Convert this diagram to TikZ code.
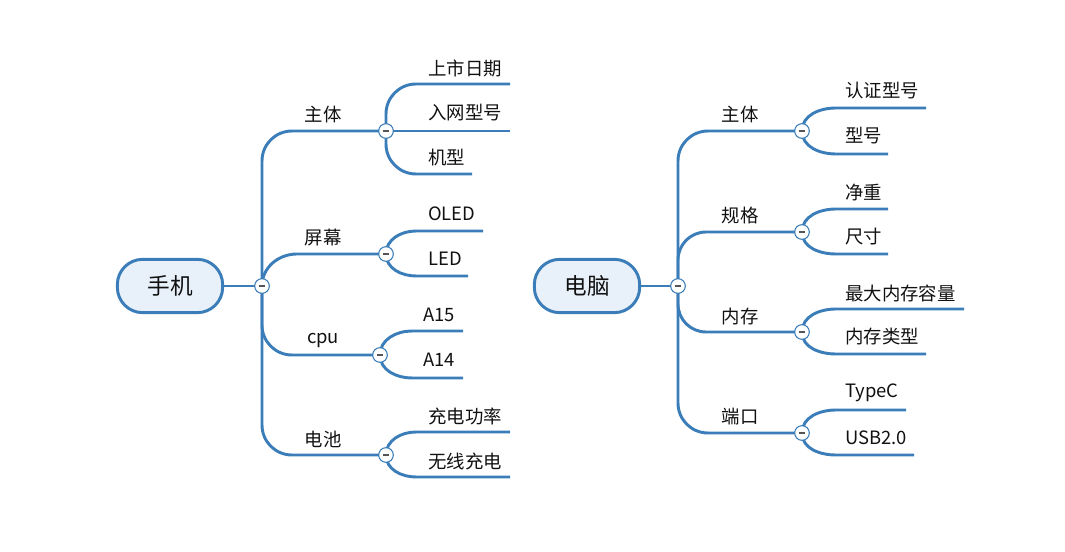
\documentclass[tikz,border=0pt]{standalone}
\usepackage{fontspec}
\setmainfont{Noto Sans CJK SC}
\usetikzlibrary{backgrounds}
\definecolor{lnblue}{HTML}{3A7DB8}
\definecolor{pillfill}{HTML}{E8F1FA}
\definecolor{txt}{HTML}{111111}
\definecolor{minuscol}{HTML}{555555}
\begin{document}
\begin{tikzpicture}[x=0.75pt,y=-0.75pt,
  conn/.style={draw=lnblue,line width=2.2pt},
  rootnode/.style={draw=lnblue,line width=2.2pt,fill=pillfill,rectangle,rounded corners=19pt,
    minimum width=79pt,minimum height=40pt,inner sep=0pt,text=txt,font=\fontsize{17pt}{20pt}\selectfont},
  togg/.style={circle,draw=lnblue,line width=0.8pt,fill=white,minimum size=11pt,inner sep=0pt,
    path picture={\draw[line width=0.9pt,minuscol] ([xshift=-2.6pt]path picture bounding box.center) -- ([xshift=2.6pt]path picture bounding box.center);}},
  lbl/.style={text=txt,font=\fontsize{13.8pt}{16pt}\selectfont,inner sep=0pt},
  leaf/.style={lbl,anchor=west}]
\useasboundingbox (0,0) rectangle (1065,552);

% ---------- left map ----------
\node[rootnode] (r1) at (170,286) {手机};
\node[togg] (c0) at (262,286) {};
\node[togg] (b1c) at (386,131) {};
\node[togg] (b2c) at (386,254) {};
\node[togg] (b3c) at (380,355) {};
\node[togg] (b4c) at (386,455) {};
\node[lbl] (b1) at (323,115) {主体};
\node[lbl] (b2) at (323,238) {屏幕};
\node[lbl] (b3) at (323,340) {cpu};
\node[lbl] (b4) at (323,439) {电池};

\node[leaf] (l11) at (428,68) {上市日期};
\node[leaf] (l12) at (428,113) {入网型号};
\node[leaf] (l13) at (428,158) {机型};
\node[leaf] (l21) at (428,214) {OLED};
\node[leaf] (l22) at (428,259) {LED};
\node[leaf] (l31) at (423,315) {A15};
\node[leaf] (l32) at (423,360) {A14};
\node[leaf] (l41) at (428,416) {充电功率};
\node[leaf] (l42) at (428,461) {无线充电};
\coordinate (e11) at (510,84);
\coordinate (e12) at (510,131);
\coordinate (e13) at (472,174);
\coordinate (e21) at (483,231);
\coordinate (e22) at (468,276);
\coordinate (e31) at (463,331);
\coordinate (e32) at (463,378);
\coordinate (e41) at (510,432);
\coordinate (e42) at (510,477);

% ---------- right map ----------
\node[rootnode] (r2) at (587,286) {电脑};
\node[togg] (d0) at (678,286) {};
\node[togg] (d1c) at (802,131) {};
\node[togg] (d2c) at (802,232) {};
\node[togg] (d3c) at (802,332) {};
\node[togg] (d4c) at (802,433) {};
\node[lbl] (d1) at (740,115) {主体};
\node[lbl] (d2) at (740,216) {规格};
\node[lbl] (d3) at (740,317) {内存};
\node[lbl] (d4) at (740,417) {端口};

\node[leaf] (m11) at (845,91) {认证型号};
\node[leaf] (m12) at (845,136) {型号};
\node[leaf] (m21) at (845,192) {净重};
\node[leaf] (m22) at (845,237) {尺寸};
\node[leaf] (m31) at (845,293) {最大内存容量};
\node[leaf] (m32) at (845,337) {内存类型};
\node[leaf] (m41) at (845,393) {TypeC};
\node[leaf] (m42) at (845,438) {USB2.0};
\coordinate (f11) at (926,108);
\coordinate (f12) at (888,154);
\coordinate (f21) at (888,209);
\coordinate (f22) at (888,254);
\coordinate (f31) at (964,309);
\coordinate (f32) at (926,354);
\coordinate (f41) at (906,410);
\coordinate (f42) at (914,455);

\begin{scope}[on background layer]
  % left trunk
  \draw[conn] (r1.east) -- (c0.center);
  \draw[conn] (c0.center) -- ++(0,-125) to[out=90,in=180] ++(30,-30) -- (b1c.center);
  \draw[conn] (c0.center) to[out=90,in=180] ++(35,-32) -- (b2c.center);
  \draw[conn] (c0.center) -- ++(0,39) to[out=-90,in=180] ++(30,30) -- (b3c.center);
  \draw[conn] (c0.center) -- ++(0,139) to[out=-90,in=180] ++(30,30) -- (b4c.center);
  % left leaves
  \draw[conn] (b1c.center) -- ++(0,-17) to[out=90,in=180] ++(30,-30) -- (e11);
  \draw[conn] (b1c.center) -- (e12);
  \draw[conn] (b1c.center) -- ++(0,13) to[out=-90,in=180] ++(30,30) -- (e13);
  \draw[conn] (b2c.center) to[out=90,in=180] ++(30,-23) -- (e21);
  \draw[conn] (b2c.center) to[out=-90,in=180] ++(30,22) -- (e22);
  \draw[conn] (b3c.center) to[out=90,in=180] ++(32,-24) -- (e31);
  \draw[conn] (b3c.center) to[out=-90,in=180] ++(32,23) -- (e32);
  \draw[conn] (b4c.center) to[out=90,in=180] ++(30,-23) -- (e41);
  \draw[conn] (b4c.center) to[out=-90,in=180] ++(30,22) -- (e42);
  % right trunk
  \draw[conn] (r2.east) -- (d0.center);
  \draw[conn] (d0.center) -- ++(0,-125) to[out=90,in=180] ++(30,-30) -- (d1c.center);
  \draw[conn] (d0.center) -- ++(0,-26) to[out=90,in=180] ++(28,-28) -- (d2c.center);
  \draw[conn] (d0.center) -- ++(0,18) to[out=-90,in=180] ++(28,28) -- (d3c.center);
  \draw[conn] (d0.center) -- ++(0,117) to[out=-90,in=180] ++(30,30) -- (d4c.center);
  % right leaves
  \draw[conn] (d1c.center) to[out=90,in=180] ++(34,-23) -- (f11);
  \draw[conn] (d1c.center) to[out=-90,in=180] ++(34,23) -- (f12);
  \draw[conn] (d2c.center) to[out=90,in=180] ++(34,-23) -- (f21);
  \draw[conn] (d2c.center) to[out=-90,in=180] ++(34,22) -- (f22);
  \draw[conn] (d3c.center) to[out=90,in=180] ++(34,-23) -- (f31);
  \draw[conn] (d3c.center) to[out=-90,in=180] ++(34,22) -- (f32);
  \draw[conn] (d4c.center) to[out=90,in=180] ++(34,-23) -- (f41);
  \draw[conn] (d4c.center) to[out=-90,in=180] ++(34,22) -- (f42);
\end{scope}
\end{tikzpicture}
\end{document}
